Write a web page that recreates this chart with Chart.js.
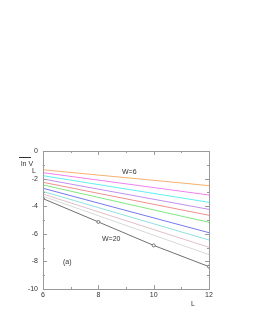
<!DOCTYPE html>
<html>
<head>
<meta charset="utf-8">
<script src="https://cdn.jsdelivr.net/npm/chart.js@4/dist/chart.umd.min.js"></script>
<style>
  body { margin: 0; background: #fff; }
  #box { width: 253px; height: 327px; }
</style>
</head>
<body>
<div id="box"><canvas id="lnChart"></canvas></div>
<script>
// valores
const lengths = [6, 12];
const darkLengths = [6, 8, 10, 12];
const widthNames = ['W=6', 'W=7', 'W=8', 'W=9', 'W=10', 'W=11', 'W=12', 'W=14', 'W=16', 'W=18'];
const valuesAt6 = [-1.36, -1.57, -1.79, -2.03, -2.27, -2.46, -2.70, -2.93, -3.12, -3.28];
const valuesAt12 = [-2.51, -3.19, -3.72, -4.23, -4.66, -5.17, -5.92, -6.45, -6.98, -7.51];
const w20Values = [-3.45, -5.14, -6.84, -8.38];
const yTicks = [0, -2, -4, -6, -8, -10];
const xTicks = [6, 8, 10, 12];

const lineColors = ['#f8b070', '#f080f0', '#60f0f0', '#c090f0', '#f09090', '#80e880',
                    '#7878f0', '#90e0e0', '#e0c0c8', '#d8d8d8'];

const datasets = widthNames.map((name, i) => ({
    label: name,
    data: [{ x: lengths[0], y: valuesAt6[i] }, { x: lengths[1], y: valuesAt12[i] }],
    borderColor: lineColors[i],
    borderWidth: 1,
    pointRadius: 0,
    tension: 0
}));
datasets.push({
    label: 'W=20',
    data: darkLengths.map((l, i) => ({ x: l, y: w20Values[i] })),
    borderColor: '#707070',
    borderWidth: 1,
    pointRadius: 1.5,
    pointBackgroundColor: '#ffffff',
    pointBorderColor: '#707070',
    pointBorderWidth: 1,
    tension: 0
});

const textFont = '7px "Liberation Sans", Arial, sans-serif';

// marco, marcas interiores y textos
const framePlugin = {
    id: 'frame',
    afterDraw(chart) {
        const ctx = chart.ctx;
        const a = chart.chartArea;
        const xs = chart.scales.x;
        const ys = chart.scales.y;
        ctx.save();
        ctx.strokeStyle = '#9a9a9a';
        ctx.lineWidth = 1;
        ctx.strokeRect(a.left + 0.5, a.top + 0.5, a.right - a.left, a.bottom - a.top);
        ctx.beginPath();
        for (let v = 6; v <= 12; v += 1) {
            const px = Math.round(xs.getPixelForValue(v)) + 0.5;
            const len = (v % 2 === 0) ? 4 : 2;
            ctx.moveTo(px, a.bottom); ctx.lineTo(px, a.bottom - len);
            ctx.moveTo(px, a.top); ctx.lineTo(px, a.top + len);
        }
        for (let v = 0; v >= -10; v -= 1) {
            const py = Math.round(ys.getPixelForValue(v)) + 0.5;
            const len = (v % 2 === 0) ? 4 : 2;
            ctx.moveTo(a.left, py); ctx.lineTo(a.left + len, py);
            ctx.moveTo(a.right, py); ctx.lineTo(a.right - len, py);
        }
        ctx.stroke();

        ctx.fillStyle = '#333';
        ctx.font = textFont;
        ctx.textBaseline = 'middle';
        ctx.textAlign = 'left';
        ctx.fillText('W=6', 122, 172);
        ctx.fillText('W=20', 102, 239);
        ctx.fillText('(a)', 63, 262);
        ctx.fillText('L', 191, 304);
        // etiqueta del eje y con barra
        ctx.fillText('ln V', 21, 164);
        ctx.fillText('L', 32, 171);
        ctx.beginPath();
        ctx.moveTo(19, 157.5); ctx.lineTo(31, 157.5);
        ctx.strokeStyle = '#333';
        ctx.stroke();
        ctx.restore();
    }
};

const ctx = document.getElementById('lnChart').getContext('2d');
const lnChart = new Chart(ctx, {
    type: 'line',
    data: { datasets: datasets },
    options: {
        responsive: true,
        maintainAspectRatio: false,
        animation: false,
        layout: { padding: { top: 151, right: 44, bottom: 18, left: 0 } },
        plugins: {
            legend: { display: false },
            tooltip: { enabled: false }
        },
        scales: {
            x: {
                type: 'linear',
                min: 6,
                max: 12,
                afterFit: function(scale) { scale.height = 20; },
                afterBuildTicks: function(scale) { scale.ticks = xTicks.map(v => ({ value: v })); },
                grid: { display: false, drawTicks: false },
                border: { display: false },
                ticks: { padding: 2, color: '#333', font: { size: 7, family: '"Liberation Sans", Arial, sans-serif' }, maxRotation: 0 }
            },
            y: {
                type: 'linear',
                min: -10,
                max: 0,
                afterFit: function(scale) { scale.width = 43; },
                afterBuildTicks: function(scale) { scale.ticks = yTicks.map(v => ({ value: v })); },
                grid: { display: false, drawTicks: false },
                border: { display: false },
                ticks: { padding: 5, color: '#333', font: { size: 7, family: '"Liberation Sans", Arial, sans-serif' } }
            }
        }
    },
    plugins: [framePlugin]
});
</script>
</body>
</html>
